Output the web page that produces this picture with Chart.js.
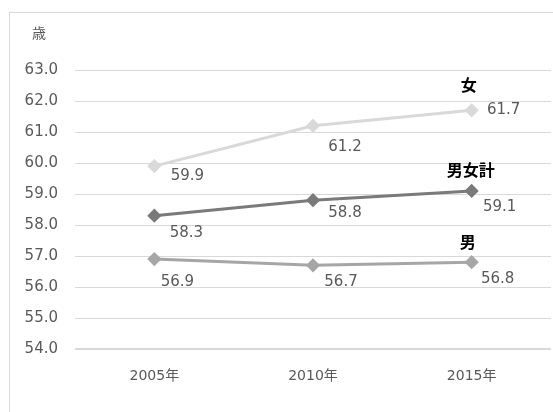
<!DOCTYPE html>
<html lang="ja">
<head>
    <meta charset="UTF-8">
    <title>平均年齢の推移</title>
    <script src="https://cdn.jsdelivr.net/npm/chart.js"></script>
    <style>
        body {
            margin: 0;
            background: #fff;
            width: 553px;
            height: 412px;
            overflow: hidden;
            position: relative;
        }
        .frame {
            position: absolute;
            left: 9px;
            top: 12px;
            width: 600px;
            height: 500px;
            border: 1px solid #d9d9d9;
        }
        canvas {
            position: absolute;
            left: 0;
            top: 0;
        }
    </style>
</head>
<body>
    <div class="frame"></div>
    <canvas id="ageChart" width="559" height="412"></canvas>

    <script>
        const years = ['2005年', '2010年', '2015年'];
        const female = [59.9, 61.2, 61.7];
        const total = [58.3, 58.8, 59.1];
        const male = [56.9, 56.7, 56.8];
        const yTicks = [54, 55, 56, 57, 58, 59, 60, 61, 62, 63];

        const numFont = "'DejaVu Sans', 'Noto Sans CJK JP', sans-serif";
        const jpFont = "'Noto Sans CJK JP', sans-serif";

        // ラベル位置の微調整（点からのずれ）
        const labelShift = [
            [[33, 10], [32, 21], [32, 0]],
            [[32, 17], [32, 13], [28, 16]],
            [[23, 23], [28, 17], [26, 17]]
        ];
        const nameShift = [[-3, -25], [-1, -21], [-4, -20]];

        const labelPlugin = {
            id: 'labels',
            afterDatasetsDraw(chart) {
                const ctx = chart.ctx;
                ctx.save();
                ctx.textAlign = 'center';
                ctx.textBaseline = 'middle';
                chart.data.datasets.forEach((ds, i) => {
                    const meta = chart.getDatasetMeta(i);
                    ctx.fillStyle = '#595959';
                    ctx.font = '15px ' + numFont;
                    meta.data.forEach((pt, j) => {
                        const s = labelShift[i][j];
                        ctx.fillText(ds.data[j].toFixed(1), pt.x + s[0], pt.y + s[1]);
                    });
                    const last = meta.data[meta.data.length - 1];
                    ctx.fillStyle = '#000';
                    ctx.font = 'bold 16px ' + jpFont;
                    ctx.fillText(ds.label, last.x + nameShift[i][0], last.y + nameShift[i][1]);
                });
                ctx.fillStyle = '#595959';
                ctx.font = '14px ' + jpFont;
                ctx.fillText('歳', 39, 33);
                ctx.restore();
            }
        };

        const ageChart = new Chart(document.getElementById('ageChart'), {
            type: 'line',
            data: {
                labels: years,
                datasets: [
                    { label: '女', data: female, borderColor: '#d9d9d9', backgroundColor: '#d9d9d9' },
                    { label: '男女計', data: total, borderColor: '#7a7a7a', backgroundColor: '#7a7a7a' },
                    { label: '男', data: male, borderColor: '#a6a6a6', backgroundColor: '#a6a6a6' }
                ].map(d => Object.assign(d, {
                    borderWidth: 3,
                    pointStyle: 'rectRot',
                    pointRadius: 5,
                    tension: 0
                }))
            },
            options: {
                responsive: false,
                animation: false,
                layout: { padding: { left: 0, right: 0, top: 70, bottom: 0 } },
                plugins: {
                    legend: { display: false },
                    tooltip: { enabled: false }
                },
                scales: {
                    x: {
                        offset: true,
                        grid: { display: false },
                        border: { display: false },
                        ticks: {
                            color: '#595959',
                            font: { family: numFont, size: 14 },
                            padding: 11
                        },
                        afterFit(scale) { scale.height = 63; }
                    },
                    y: {
                        min: 54,
                        max: 63,
                        afterBuildTicks(scale) { scale.ticks = yTicks.map(v => ({ value: v })); },
                        grid: {
                            color: '#d9d9d9',
                            lineWidth: c => (c.tick && c.tick.value === 54 ? 2 : 1),
                            drawTicks: false
                        },
                        border: { display: false },
                        ticks: {
                            color: '#595959',
                            font: { family: numFont, size: 15 },
                            padding: 17,
                            callback: v => v.toFixed(1)
                        },
                        afterFit(scale) { scale.width = 75; }
                    }
                }
            },
            plugins: [labelPlugin]
        });
    </script>
</body>
</html>
